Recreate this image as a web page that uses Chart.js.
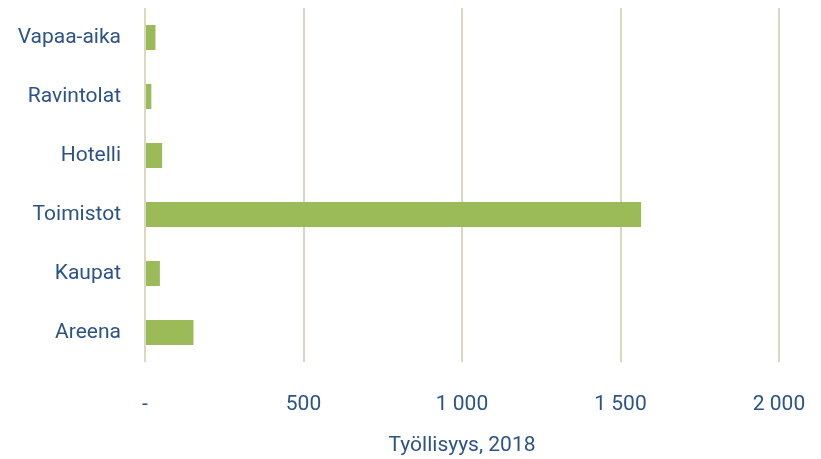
<!DOCTYPE html>
<html>
<head>
<meta charset="utf-8">
<script src="https://cdn.jsdelivr.net/npm/chart.js@4"></script>
<style>
  html, body { margin: 0; padding: 0; background: #fff; }
  #wrap { width: 821px; height: 459px; }
</style>
</head>
<body>
<div id="wrap"><canvas id="chart1"></canvas></div>
<script>
const categories = ['Vapaa-aika', 'Ravintolat', 'Hotelli', 'Toimistot', 'Kaupat', 'Areena'];
const employment = [33, 20, 54, 1565, 47, 153];
const tickValues = [0, 500, 1000, 1500, 2000];
const tickLabels = ['-', '500', '1 000', '1 500', '2 000'];
const axisTitle = 'Työllisyys, 2018';

const textColor = '#2c5389';
const font = "Roboto, sans-serif";

// drop the label overflow padding so the plot area is set by the layout padding only
const noPad = (s) => { s.paddingLeft = 0; s.paddingRight = 0; s.paddingTop = 0; s.paddingBottom = 0; };

new Chart(document.getElementById('chart1'), {
    type: 'bar',
    data: {
        labels: categories,
        datasets: [{
            data: employment,
            backgroundColor: '#9bbb59',
            borderWidth: 0,
            barPercentage: 0.85,
            categoryPercentage: 0.5
        }]
    },
    options: {
        indexAxis: 'y',
        responsive: true,
        maintainAspectRatio: false,
        animation: false,
        layout: { padding: { top: 8, right: 42, bottom: 1, left: 0 } },
        scales: {
            x: {
                min: 0,
                max: 2000,
                afterBuildTicks: (s) => { s.ticks = tickValues.map(v => ({ value: v })); },
                afterFit: (s) => { s.height = 96; noPad(s); },
                border: { display: false },
                grid: { color: '#dcd8c0', lineWidth: 2, drawTicks: false },
                ticks: {
                    padding: 30,
                    color: textColor,
                    font: { family: font, size: 21 },
                    callback: (v) => tickLabels[tickValues.indexOf(v)]
                },
                title: {
                    display: true,
                    text: axisTitle,
                    color: textColor,
                    font: { family: font, size: 21 },
                    padding: { top: 10, bottom: 0 }
                }
            },
            y: {
                afterFit: (s) => { s.width = 145; noPad(s); },
                border: { display: false },
                grid: { display: false, drawTicks: false },
                ticks: {
                    padding: 24,
                    color: textColor,
                    font: { family: font, size: 21 }
                }
            }
        },
        plugins: {
            legend: { display: false },
            tooltip: { enabled: false }
        }
    }
});
</script>
</body>
</html>
